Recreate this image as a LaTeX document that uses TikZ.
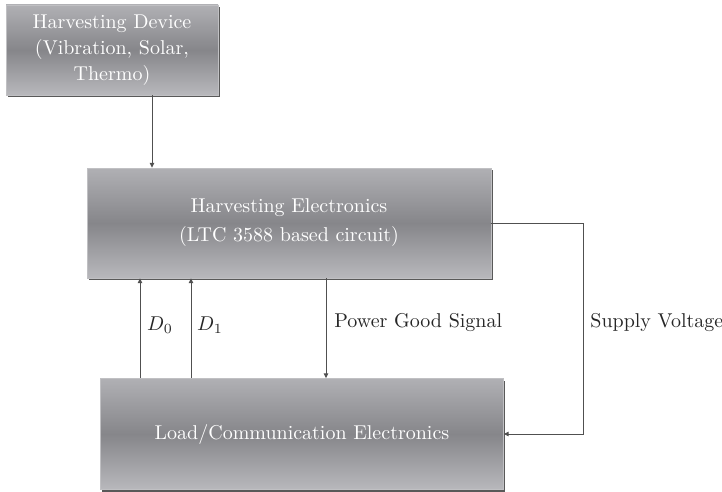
\documentclass[tikz,border=0pt]{standalone}
\usetikzlibrary{arrows.meta,positioning,shadows}

\definecolor{boxtop}{RGB}{176,176,180}
\definecolor{boxmid}{RGB}{134,134,138}
\definecolor{boxbot}{RGB}{184,184,188}
\definecolor{wire}{RGB}{80,80,80}

\begin{document}
\begin{tikzpicture}[
  x=0.5pt, y=-0.5pt,
  font=\fontsize{10}{13}\selectfont,
  box/.style={
    draw=boxtop!80!white,
    line width=0.3pt,
    top color=boxtop,
    bottom color=boxbot,
    middle color=boxmid,
    text=white,
    align=center,
    inner sep=0pt,
    general shadow={fill=black!65, shadow xshift=0.9pt, shadow yshift=-1.1pt}
  },
  lbl/.style={inner sep=0pt, text=black!85},
  arrow/.style={-{Triangle[length=2.4pt,width=2.2pt]}, line width=0.5pt, draw=wire}
]
\useasboundingbox (0,0) rectangle (722,492);

\node[box, minimum width=106pt, minimum height=45pt] (device) at (112,50)
  {Harvesting Device\\(Vibration, Solar,\\Thermo)};
\node[box, minimum width=202pt, minimum height=55pt,
  font=\fontsize{10}{14.5}\selectfont] (elec) at (289,223)
  {Harvesting Electronics\\(LTC 3588 based circuit)};
\node[box, minimum width=201.5pt, minimum height=55.5pt] (load) at (302,434)
  {Load/Communication Electronics};

\draw[arrow] ([xshift=20pt]device.south) -- ([xshift=20pt]device.south |- elec.north);
\draw[arrow] ([xshift=-81pt]load.north) -- ([xshift=-81pt]load.north |- elec.south);
\draw[arrow] ([xshift=-55.5pt]load.north) -- ([xshift=-55.5pt]load.north |- elec.south);
\draw[arrow] ([xshift=18.5pt]elec.south) -- ([xshift=18.5pt]elec.south |- load.north);
\draw[arrow] (elec.east) -- ++(46pt,0) |- (load.east);

\node[lbl] (dzero) at (160,325) {$D_0$};
\node[lbl] (done) at (210,325) {$D_1$};
\node[lbl, anchor=west] (pgood) at (334,323) {Power Good Signal};
\node[lbl, anchor=west] (supply) at (590,323) {Supply Voltage};

\end{tikzpicture}
\end{document}
